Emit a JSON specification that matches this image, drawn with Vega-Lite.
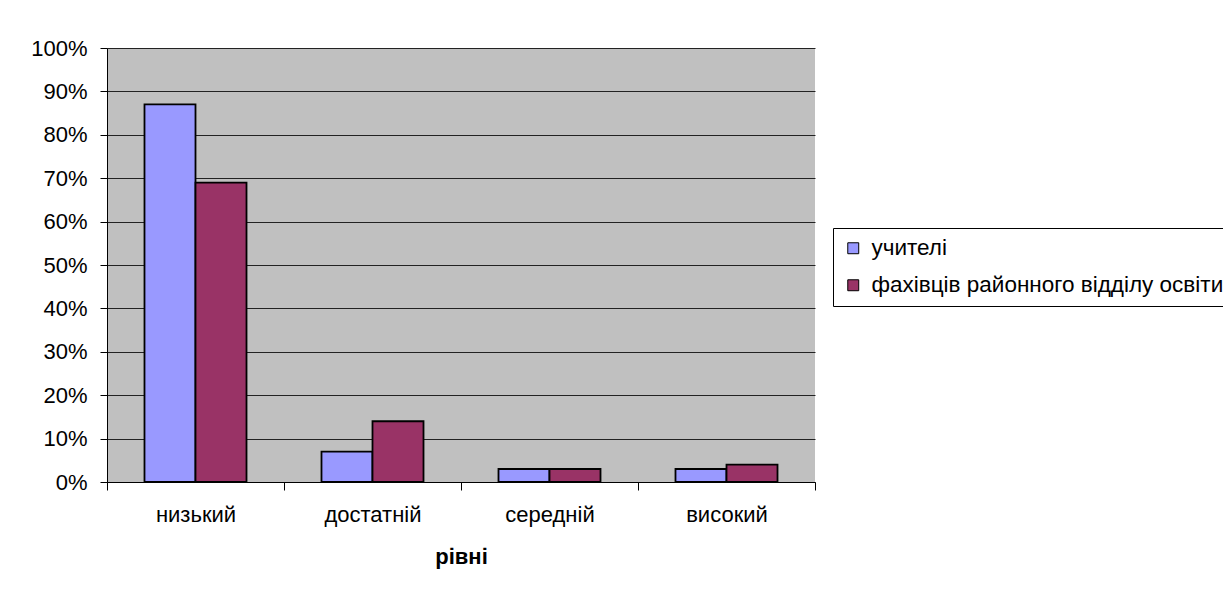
{
  "$schema": "https://vega.github.io/schema/vega-lite/v6.json",
  "autosize": {"type": "none"},
  "width": 708,
  "height": 434,
  "padding": {"left": 107, "top": 48, "right": 408, "bottom": 110},
  "background": "white",
  "data": {"values": [
    {"level": "низький", "group": "учителі", "value": 0.87},
    {"level": "низький", "group": "фахівців районного відділу освіти", "value": 0.69},
    {"level": "достатній", "group": "учителі", "value": 0.07},
    {"level": "достатній", "group": "фахівців районного відділу освіти", "value": 0.14},
    {"level": "середній", "group": "учителі", "value": 0.03},
    {"level": "середній", "group": "фахівців районного відділу освіти", "value": 0.03},
    {"level": "високий", "group": "учителі", "value": 0.03},
    {"level": "високий", "group": "фахівців районного відділу освіти", "value": 0.04}
  ]},
  "mark": {"type": "bar", "stroke": "black", "strokeWidth": 1.8},
  "encoding": {
    "x": {
      "field": "level", "type": "nominal", "sort": ["низький", "достатній", "середній", "високий"],
      "scale": {"paddingInner": 0, "paddingOuter": 0},
      "axis": {"title": "рівні", "labelAngle": 0, "tickBand": "extent", "tickSize": 8, "tickColor": "black", "domainColor": "black", "labelPadding": 14, "titlePadding": 21, "titleFontWeight": "bold", "labelFontSize": 22, "titleFontSize": 22}
    },
    "xOffset": {
      "field": "group", "type": "nominal", "sort": ["учителі", "фахівців районного відділу освіти"],
      "scale": {"paddingInner": 0, "paddingOuter": 0.735}
    },
    "y": {
      "field": "value", "type": "quantitative",
      "scale": {"domain": [0, 1]},
      "axis": {"title": null, "format": ".0%", "values": [0, 0.1, 0.2, 0.3, 0.4, 0.5, 0.6, 0.7, 0.8, 0.9, 1], "grid": true, "gridColor": "#222222", "gridWidth": 1, "gridOpacity": 1, "tickSize": 7, "tickColor": "black", "domainColor": "black", "labelPadding": 13, "labelFontSize": 22}
    },
    "color": {
      "field": "group", "type": "nominal", "sort": ["учителі", "фахівців районного відділу освіти"],
      "scale": {"range": ["#9999FF", "#993366"]},
      "legend": {"title": null, "orient": "none", "legendX": 726, "legendY": 180, "symbolType": "square", "symbolSize": 120, "symbolStrokeColor": "black", "symbolStrokeWidth": 1, "symbolOpacity": 1, "labelFontSize": 22.5, "labelColor": "black", "labelOffset": 7, "strokeColor": "black", "padding": 9, "rowPadding": 14, "labelLimit": 600, "fillColor": "white"}
    }
  },
  "config": {
    "font": "Liberation Sans",
    "view": {"fill": "#C0C0C0", "stroke": null},
    "axis": {"labelColor": "black", "titleColor": "black", "domainWidth": 1, "tickWidth": 1, "labelFont": "Liberation Sans", "titleFont": "Liberation Sans"},
    "legend": {"labelFont": "Liberation Sans"}
  }
}
